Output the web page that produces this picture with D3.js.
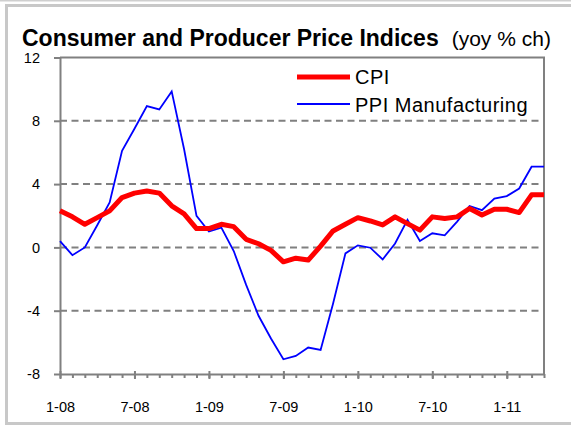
<!DOCTYPE html>
<html>
<head>
<meta charset="utf-8">
<script src="https://cdn.jsdelivr.net/npm/d3@7"></script>
<style>
  body { margin: 0; background: #fff; }
  svg { display: block; font-family: Arial, "Liberation Sans", sans-serif; }
  .axis path, .axis line { stroke: #808080; stroke-width: 2; }
  .axis text { font-size: 14.5px; fill: #000; }
</style>
</head>
<body>
<script>
// monthly yoy % change, Jan 2008 .. Apr 2011
var cpi = [2.31, 1.93, 1.46, 1.88, 2.31, 3.15, 3.43, 3.56, 3.43, 2.63, 2.12, 1.19,
           1.19, 1.46, 1.31, 0.51, 0.23, -0.19, -0.91, -0.68, -0.80, 0.08, 1.04, 1.46,
           1.88, 1.67, 1.42, 1.93, 1.50, 1.09, 1.93, 1.82, 1.93, 2.46, 2.05, 2.41,
           2.41, 2.20, 3.32, 3.32];
var ppi = [0.40, -0.49, 0.00, 1.40, 2.84, 6.11, 7.50, 8.93, 8.72, 9.86, 6.20, 1.99,
           1.00, 1.25, -0.23, -2.37, -4.32, -5.76, -7.07, -6.86, -6.33, -6.48, -3.56, -0.38,
           0.13, -0.02, -0.76, 0.25, 1.74, 0.40, 0.89, 0.76, 1.63, 2.62, 2.35, 3.09,
           3.24, 3.72, 5.10, 5.10];
var xLabels = ["1-08", "7-08", "1-09", "7-09", "1-10", "7-10", "1-11"];
var xLabelIdx = [0, 6, 12, 18, 24, 30, 36];
var yTicks = [-8, -4, 0, 4, 8, 12];
var gridTicks = [-4, 0, 4, 8];

var width = 571, height = 426;
var margin = {left: 60, right: 27, top: 57.5, bottom: 52};

var svg = d3.select("body").append("svg")
            .attr("width", width)
            .attr("height", height);

// outer frame
svg.append("line")
   .attr("x1", 0).attr("x2", width).attr("y1", 0.8).attr("y2", 0.8)
   .attr("stroke", "#cfcfcf").attr("stroke-width", 1.6);
svg.append("rect")
   .attr("x", 6.5).attr("y", 5.5)
   .attr("width", 620).attr("height", 418)
   .attr("fill", "none").attr("stroke", "#c8c8c8").attr("stroke-width", 3);

var x = d3.scaleLinear().domain([0, cpi.length - 1])
          .range([margin.left, width - margin.right]);
var y = d3.scaleLinear().domain([-8, 12])
          .range([height - margin.bottom, margin.top]);

// title
var title = svg.append("text")
   .attr("x", 22).attr("y", 46);
title.append("tspan").style("font-weight", "bold").style("font-size", "23px")
     .text("Consumer and Producer Price Indices");
title.append("tspan").attr("dx", 13).style("font-size", "21px").text("(yoy % ch)");

// dashed grid
svg.append("g").selectAll("line")
   .data(gridTicks).enter().append("line")
   .attr("x1", x(0)).attr("x2", x(cpi.length - 1))
   .attr("y1", function(d) { return y(d); })
   .attr("y2", function(d) { return y(d); })
   .attr("stroke", "#808080").attr("stroke-width", 2)
   .attr("stroke-dasharray", "7,4.5");

// top and right border of plot
svg.append("path")
   .attr("d", "M" + x(0) + "," + y(12) + "H" + x(cpi.length - 1) + "V" + y(-8))
   .attr("fill", "none").attr("stroke", "#808080").attr("stroke-width", 2);

// y axis
svg.append("g")
   .attr("class", "axis")
   .attr("transform", "translate(" + x(0) + ",0)")
   .call(d3.axisLeft(y).tickValues(yTicks).tickSize(6).tickSizeOuter(0).tickPadding(14)
           .tickFormat(function(d) { return String(d); }));

// x axis: minor monthly ticks
svg.append("g")
   .attr("class", "axis")
   .attr("transform", "translate(0," + y(-8) + ")")
   .call(d3.axisBottom(x).tickValues(d3.range(cpi.length)).tickSize(4)
           .tickSizeOuter(0).tickFormat(""));

// x axis: half-year ticks and labels
var major = svg.append("g")
   .attr("class", "axis")
   .attr("transform", "translate(0," + y(-8) + ")")
   .call(d3.axisBottom(x).tickValues(xLabelIdx).tickSize(5).tickSizeOuter(0)
           .tickPadding(23)
           .tickFormat(function(d, i) { return xLabels[i]; }));
major.select(".domain").remove();
major.selectAll(".tick line").attr("y1", -3);

// lines
var line = function(vals) {
  return d3.line()
           .x(function(d, i) { return x(i); })
           .y(function(d) { return y(d); })(vals);
};

svg.append("path")
   .attr("d", line(ppi))
   .attr("fill", "none").attr("stroke", "#0000ff").attr("stroke-width", 1.8)
   .attr("stroke-linejoin", "miter");

svg.append("path")
   .attr("d", line(cpi))
   .attr("fill", "none").attr("stroke", "#ff0000").attr("stroke-width", 5)
   .attr("stroke-linejoin", "round");

// legend
var legend = [
  {name: "CPI", color: "#ff0000", w: 5, ly: 77, ty: 84},
  {name: "PPI Manufacturing", color: "#0000ff", w: 1.8, ly: 104, ty: 112}
];
var lg = svg.append("g").selectAll("g").data(legend).enter().append("g");
lg.append("line")
  .attr("x1", 297).attr("x2", 350)
  .attr("y1", function(d) { return d.ly; })
  .attr("y2", function(d) { return d.ly; })
  .attr("stroke", function(d) { return d.color; })
  .attr("stroke-width", function(d) { return d.w; });
lg.append("text")
  .attr("x", 355)
  .attr("y", function(d) { return d.ty; })
  .style("font-size", "20px")
  .style("letter-spacing", "0.5px")
  .text(function(d) { return d.name; });
</script>
</body>
</html>
